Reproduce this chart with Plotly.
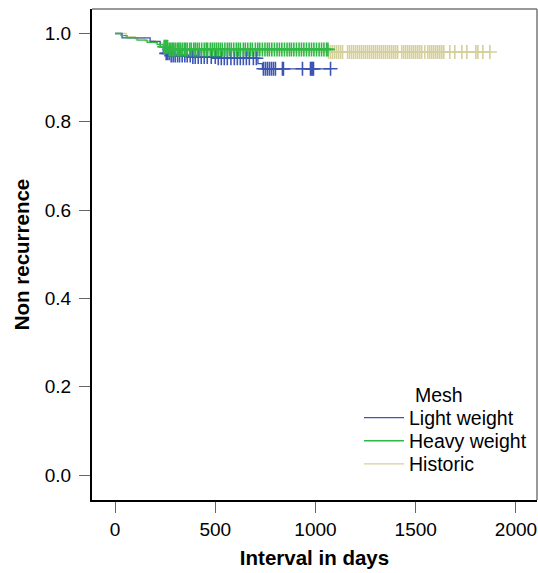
import plotly.graph_objects as go
import numpy as np

# ---- Kaplan-Meier step data (day, survival) ----
light_t = [0, 35, 175, 225, 240, 255, 275, 380, 510, 713, 735]
light_s = [1.0, 0.99, 0.982, 0.97, 0.96, 0.955, 0.95, 0.947, 0.944, 0.932, 0.92]
light_end = 1075
light_cens = [255, 262, 270, 280, 290, 300, 312, 322, 335, 348, 360, 375, 388, 400,
              415, 430, 445, 460, 480, 500, 515, 530, 545, 560, 578, 595, 610, 625,
              640, 655, 670, 690, 705, 740, 750, 760, 770, 780, 790, 800, 835, 840,
              935, 975, 980, 985, 990, 1075]

heavy_t = [0, 30, 60, 110, 160, 210, 240, 270]
heavy_s = [1.0, 0.995, 0.99, 0.985, 0.98, 0.975, 0.97, 0.964]
heavy_end = 1062
heavy_cens = [245, 250, 255, 262, 270, 278, 285, 292, 300, 310, 318, 325, 335, 345,
              352, 360, 372, 380, 392, 400, 410, 420, 432, 445, 455, 462, 475, 485,
              495, 505, 515, 525, 535, 548, 560, 570, 580, 592, 605, 615, 625, 640,
              650, 662, 675, 685, 700, 712, 722, 735, 748, 760, 770, 782, 795, 808,
              820, 832, 845, 858, 870, 880, 892, 905, 918, 930, 942, 955, 968, 980,
              992, 1005, 1018, 1030, 1042, 1055, 1062]

hist_t = [0, 55, 100, 150, 200, 260, 330, 420]
hist_s = [1.0, 0.993, 0.988, 0.983, 0.978, 0.972, 0.965, 0.958]
hist_end = 1870
hist_cens = [1065, 1075, 1085, 1095, 1105, 1115, 1125, 1135, 1160, 1170, 1180, 1190,
             1200, 1210, 1220, 1230, 1240, 1250, 1260, 1270, 1280, 1290, 1300, 1310,
             1320, 1330, 1340, 1350, 1360, 1370, 1380, 1390, 1400, 1410, 1430, 1440,
             1450, 1460, 1470, 1480, 1490, 1500, 1510, 1520, 1530, 1545, 1560, 1570,
             1580, 1590, 1600, 1610, 1620, 1630, 1640, 1670, 1695, 1730, 1755, 1800,
             1810, 1835, 1870]

names = ["Light weight", "Heavy weight", "Historic"]
colors = ["#3c55b2", "#30b846", "#d5cf9b"]

x_ticks = [0, 500, 1000, 1500, 2000]
y_ticks = [0.0, 0.2, 0.4, 0.6, 0.8, 1.0]


def surv_at(t_list, s_list, t):
    idx = np.searchsorted(np.array(t_list), t, side="right") - 1
    return s_list[idx]


groups = [
    (light_t, light_s, light_end, light_cens),
    (heavy_t, heavy_s, heavy_end, heavy_cens),
    (hist_t, hist_s, hist_end, hist_cens),
]

fig = go.Figure()
draw_order = [2, 0, 1]
for gi in draw_order:
    t, s, end, cens = groups[gi]
    fig.add_trace(go.Scatter(
        x=list(t) + [end], y=list(s) + [s[-1]], mode="lines",
        line=dict(color=colors[gi], width=1.3, shape="hv"),
        name=names[gi], showlegend=False, hoverinfo="skip"))
    fig.add_trace(go.Scatter(
        x=cens, y=[surv_at(t, s, c) for c in cens], mode="markers",
        marker=dict(symbol="cross-thin", size=10,
                    line=dict(color=colors[gi], width=1.6)),
        showlegend=False, hoverinfo="skip"))

# legend entries in the original order, one legend per row for exact spacing
legend_keys = ["legend", "legend2", "legend3"]
for gi in range(3):
    fig.add_trace(go.Scatter(
        x=[None], y=[None], mode="lines", legend=legend_keys[gi],
        line=dict(color=colors[gi], width=1.3), name=names[gi]))

font_family = "Liberation Sans, Arial, sans-serif"
leg_common = dict(x=0.6, xanchor="left", yanchor="middle",
                  bgcolor="rgba(0,0,0,0)", font=dict(size=19.5), itemwidth=40)

fig.update_layout(
    width=538, height=573,
    margin=dict(l=92, r=1, t=9, b=73),
    plot_bgcolor="white", paper_bgcolor="white",
    font=dict(family=font_family, size=19, color="black"),
    showlegend=True,
    legend=dict(y=0.167, **leg_common),
    legend2=dict(y=0.120, **leg_common),
    legend3=dict(y=0.073, **leg_common),
    xaxis=dict(range=[-115, 2105], tickvals=x_ticks, showgrid=False, zeroline=False,
               showline=True, linecolor="black", linewidth=2, mirror=False,
               automargin=False,
               ticks="outside", ticklen=11, tickcolor="#666", tickwidth=1,
               title=dict(text="<b>Interval in days</b>", font=dict(size=20.5), standoff=12)),
    yaxis=dict(range=[-0.0566, 1.0555], tickvals=y_ticks, tickformat=".1f",
               showgrid=False, zeroline=False, automargin=False,
               showline=True, linecolor="black", linewidth=2, mirror=False,
               ticks="outside", ticklen=11, tickcolor="#666", tickwidth=1,
               ticklabelstandoff=4,
               title=dict(text="<b>Non recurrence</b>", font=dict(size=20.5), standoff=10)),
    shapes=[
        dict(type="line", xref="paper", yref="paper", x0=0, x1=1, y0=1, y1=1,
             line=dict(color="#777", width=1.5)),
        dict(type="line", xref="paper", yref="paper", x0=1, x1=1, y0=0, y1=1,
             line=dict(color="#777", width=1.5)),
    ],
    annotations=[dict(text="Mesh", xref="paper", yref="paper", x=0.722, y=0.214,
                      xanchor="left", yanchor="middle", showarrow=False,
                      font=dict(size=19.5))],
)

fig.write_html("out.html", config={"displayModeBar": False},
               post_script="document.body.style.margin='0';"
                           "document.body.style.overflow='hidden';")
